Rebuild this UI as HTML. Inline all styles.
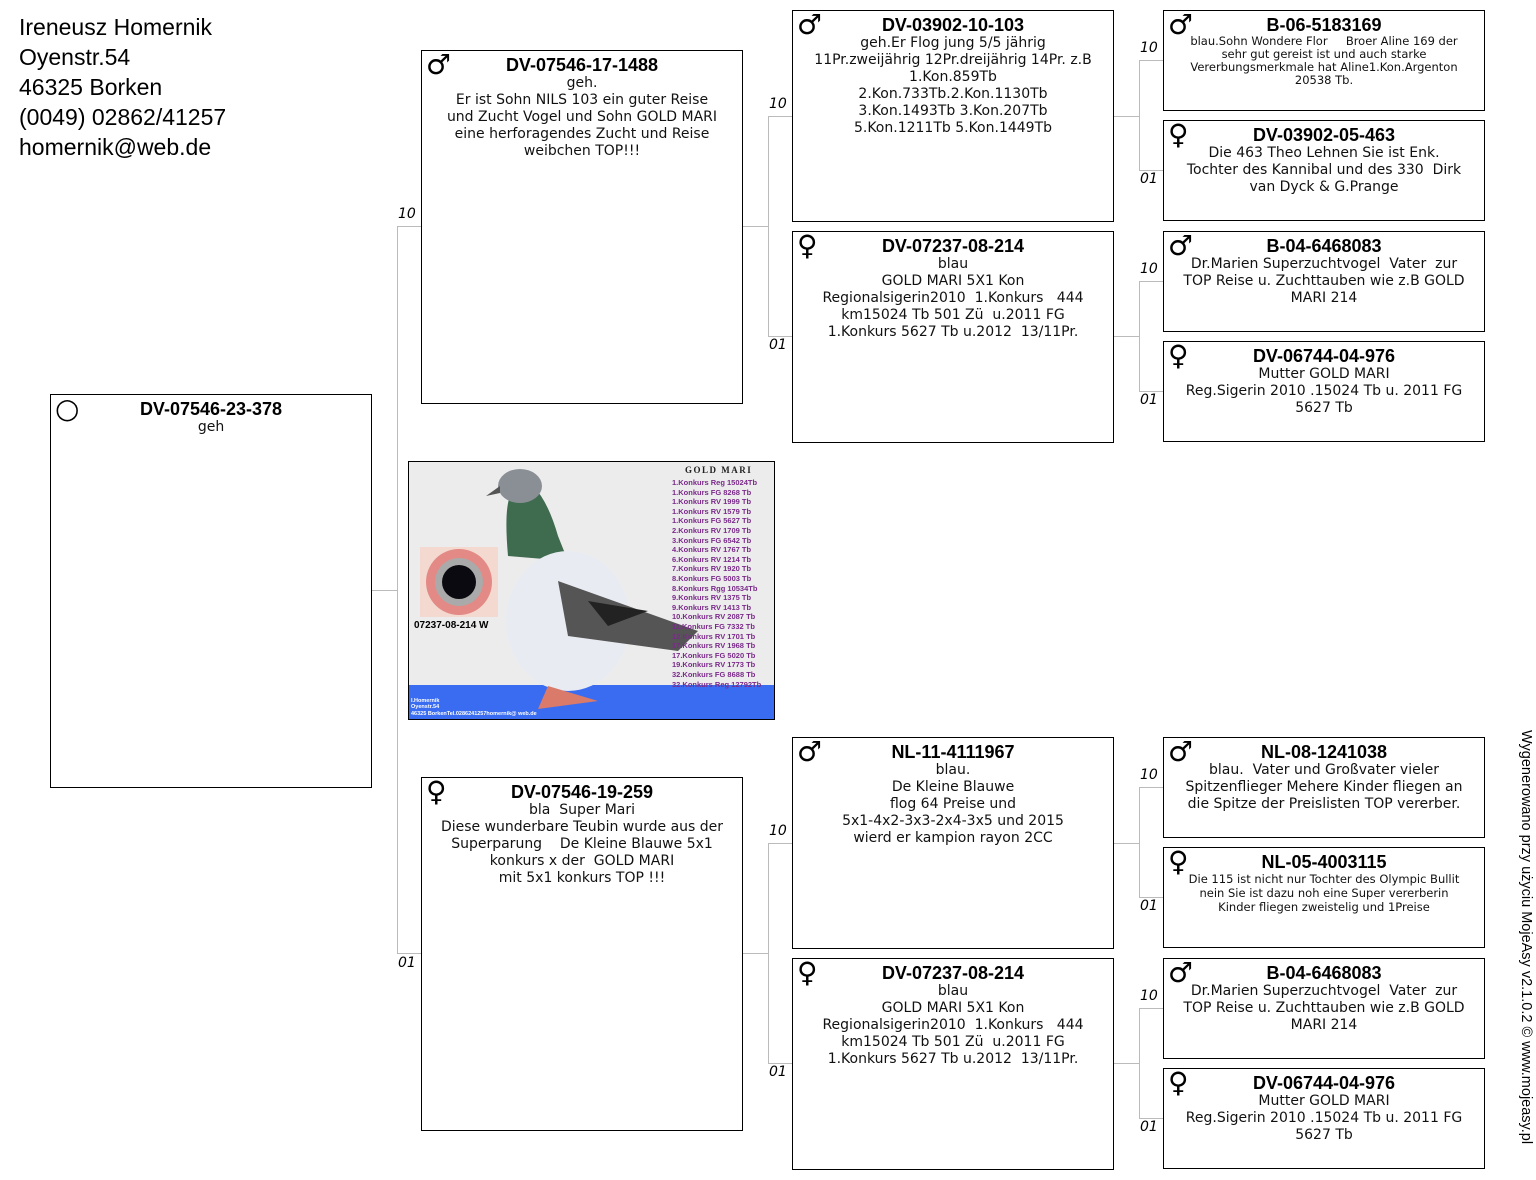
<!DOCTYPE html>
<html><head><meta charset="utf-8"><style>
body{margin:0;width:1536px;height:1180px;background:#fff;position:relative;overflow:hidden;font-family:"DejaVu Sans","Liberation Sans",sans-serif;color:#111}
.b{position:absolute;border:1px solid #000;box-sizing:border-box;background:#fff;text-align:center;font-size:14px;line-height:17px;padding-top:5px}
.b .t{font-family:"Liberation Sans",sans-serif;font-weight:bold;font-size:18px;line-height:19px;color:#000}
.s{position:absolute;left:4px;top:0px;font-size:28px;line-height:28px;font-family:"DejaVu Sans",sans-serif;color:#000}
.sm{font-size:11.5px;line-height:13px}
.l{position:absolute;background:#bbb}
.n{position:absolute;font-style:italic;font-size:14px;font-family:"DejaVu Sans",sans-serif;color:#000}
.hd{position:absolute;left:19px;top:12px;font-family:"Liberation Sans",sans-serif;font-size:23px;line-height:30px;color:#000}
</style></head><body>
<div class="hd">Ireneusz Homernik<br>Oyenstr.54<br>46325 Borken<br>(0049) 02862/41257<br>homernik@web.de</div>

<div class="l" style="left:371px;top:590px;width:26px;height:1px"></div>
<div class="l" style="left:397px;top:226px;width:1px;height:728px"></div>
<div class="l" style="left:397px;top:226px;width:24px;height:1px"></div>
<div class="l" style="left:397px;top:953px;width:24px;height:1px"></div>
<div class="n" style="left:398px;top:206px">10</div><div class="n" style="left:398px;top:955px">01</div>

<div class="l" style="left:742px;top:226px;width:26px;height:1px"></div>
<div class="l" style="left:768px;top:116px;width:1px;height:221px"></div>
<div class="l" style="left:768px;top:116px;width:24px;height:1px"></div>
<div class="l" style="left:768px;top:336px;width:24px;height:1px"></div>
<div class="n" style="left:769px;top:96px">10</div><div class="n" style="left:769px;top:337px">01</div>

<div class="l" style="left:742px;top:953px;width:26px;height:1px"></div>
<div class="l" style="left:768px;top:843px;width:1px;height:221px"></div>
<div class="l" style="left:768px;top:843px;width:24px;height:1px"></div>
<div class="l" style="left:768px;top:1063px;width:24px;height:1px"></div>
<div class="n" style="left:769px;top:823px">10</div><div class="n" style="left:769px;top:1064px">01</div>

<div class="l" style="left:1113px;top:116px;width:26px;height:1px"></div>
<div class="l" style="left:1139px;top:60px;width:1px;height:111px"></div>
<div class="l" style="left:1139px;top:60px;width:24px;height:1px"></div>
<div class="l" style="left:1139px;top:170px;width:24px;height:1px"></div>
<div class="n" style="left:1140px;top:40px">10</div><div class="n" style="left:1140px;top:171px">01</div>

<div class="l" style="left:1113px;top:336px;width:26px;height:1px"></div>
<div class="l" style="left:1139px;top:281px;width:1px;height:111px"></div>
<div class="l" style="left:1139px;top:281px;width:24px;height:1px"></div>
<div class="l" style="left:1139px;top:391px;width:24px;height:1px"></div>
<div class="n" style="left:1140px;top:261px">10</div><div class="n" style="left:1140px;top:392px">01</div>

<div class="l" style="left:1113px;top:843px;width:26px;height:1px"></div>
<div class="l" style="left:1139px;top:787px;width:1px;height:111px"></div>
<div class="l" style="left:1139px;top:787px;width:24px;height:1px"></div>
<div class="l" style="left:1139px;top:897px;width:24px;height:1px"></div>
<div class="n" style="left:1140px;top:767px">10</div><div class="n" style="left:1140px;top:898px">01</div>

<div class="l" style="left:1113px;top:1063px;width:26px;height:1px"></div>
<div class="l" style="left:1139px;top:1008px;width:1px;height:111px"></div>
<div class="l" style="left:1139px;top:1008px;width:24px;height:1px"></div>
<div class="l" style="left:1139px;top:1118px;width:24px;height:1px"></div>
<div class="n" style="left:1140px;top:988px">10</div><div class="n" style="left:1140px;top:1119px">01</div>

<div class="b" style="left:50px;top:394px;width:322px;height:394px"><span class="s">○</span><div class="t">DV-07546-23-378</div>geh</div>

<div class="b" style="left:421px;top:50px;width:322px;height:354px"><span class="s">♂</span><div class="t">DV-07546-17-1488</div>geh.<br>Er ist Sohn NILS 103 ein guter Reise<br>und Zucht Vogel und Sohn GOLD MARI<br>eine herforagendes Zucht und Reise<br>weibchen TOP!!!</div>
<div class="b" style="left:421px;top:777px;width:322px;height:354px"><span class="s">♀</span><div class="t">DV-07546-19-259</div>bla&nbsp; Super Mari<br>Diese wunderbare Teubin wurde aus der<br>Superparung&nbsp;&nbsp;&nbsp; De Kleine Blauwe 5x1<br>konkurs x der&nbsp; GOLD MARI<br>mit 5x1 konkurs TOP !!!</div>

<div class="b" style="left:792px;top:10px;width:322px;height:212px"><span class="s">♂</span><div class="t">DV-03902-10-103</div>geh.Er Flog jung 5/5 jährig<br>11Pr.zweijährig 12Pr.dreijährig 14Pr. z.B<br>1.Kon.859Tb<br>2.Kon.733Tb.2.Kon.1130Tb<br>3.Kon.1493Tb 3.Kon.207Tb<br>5.Kon.1211Tb 5.Kon.1449Tb</div>
<div class="b" style="left:792px;top:231px;width:322px;height:212px"><span class="s">♀</span><div class="t">DV-07237-08-214</div>blau<br>GOLD MARI 5X1 Kon<br>Regionalsigerin2010&nbsp; 1.Konkurs&nbsp;&nbsp; 444<br>km15024 Tb 501 Zü&nbsp; u.2011 FG<br>1.Konkurs 5627 Tb u.2012&nbsp; 13/11Pr.</div>
<div class="b" style="left:792px;top:737px;width:322px;height:212px"><span class="s">♂</span><div class="t">NL-11-4111967</div>blau.<br>De Kleine Blauwe<br>flog 64 Preise und<br>5x1-4x2-3x3-2x4-3x5 und 2015<br>wierd er kampion rayon 2CC</div>
<div class="b" style="left:792px;top:958px;width:322px;height:212px"><span class="s">♀</span><div class="t">DV-07237-08-214</div>blau<br>GOLD MARI 5X1 Kon<br>Regionalsigerin2010&nbsp; 1.Konkurs&nbsp;&nbsp; 444<br>km15024 Tb 501 Zü&nbsp; u.2011 FG<br>1.Konkurs 5627 Tb u.2012&nbsp; 13/11Pr.</div>

<div class="b" style="left:1163px;top:10px;width:322px;height:101px"><span class="s">♂</span><div class="t">B-06-5183169</div><div class="sm">blau.Sohn Wondere Flor&nbsp;&nbsp;&nbsp;&nbsp; Broer Aline 169 der<br>sehr gut gereist ist und auch starke<br>Vererbungsmerkmale hat Aline1.Kon.Argenton<br>20538 Tb.</div></div>
<div class="b" style="left:1163px;top:120px;width:322px;height:101px"><span class="s">♀</span><div class="t">DV-03902-05-463</div>Die 463 Theo Lehnen Sie ist Enk.<br>Tochter des Kannibal und des 330&nbsp; Dirk<br>van Dyck &amp; G.Prange</div>
<div class="b" style="left:1163px;top:231px;width:322px;height:101px"><span class="s">♂</span><div class="t">B-04-6468083</div>Dr.Marien Superzuchtvogel&nbsp; Vater&nbsp; zur<br>TOP Reise u. Zuchttauben wie z.B GOLD<br>MARI 214</div>
<div class="b" style="left:1163px;top:341px;width:322px;height:101px"><span class="s">♀</span><div class="t">DV-06744-04-976</div>Mutter GOLD MARI<br>Reg.Sigerin 2010 .15024 Tb u. 2011 FG<br>5627 Tb</div>
<div class="b" style="left:1163px;top:737px;width:322px;height:101px"><span class="s">♂</span><div class="t">NL-08-1241038</div>blau.&nbsp; Vater und Großvater vieler<br>Spitzenflieger Mehere Kinder fliegen an<br>die Spitze der Preislisten TOP vererber.</div>
<div class="b" style="left:1163px;top:847px;width:322px;height:101px"><span class="s">♀</span><div class="t">NL-05-4003115</div><div class="sm" style="line-height:14px">Die 115 ist nicht nur Tochter des Olympic Bullit<br>nein Sie ist dazu noh eine Super vererberin<br>Kinder fliegen zweistelig und 1Preise</div></div>
<div class="b" style="left:1163px;top:958px;width:322px;height:101px"><span class="s">♂</span><div class="t">B-04-6468083</div>Dr.Marien Superzuchtvogel&nbsp; Vater&nbsp; zur<br>TOP Reise u. Zuchttauben wie z.B GOLD<br>MARI 214</div>
<div class="b" style="left:1163px;top:1068px;width:322px;height:101px"><span class="s">♀</span><div class="t">DV-06744-04-976</div>Mutter GOLD MARI<br>Reg.Sigerin 2010 .15024 Tb u. 2011 FG<br>5627 Tb</div>

<svg style="position:absolute;left:408px;top:461px" width="367" height="259" viewBox="0 0 367 259">
<rect x="0.5" y="0.5" width="366" height="258" fill="#ececec" stroke="#000"/>
<rect x="1" y="224" width="365" height="34" fill="#3a6cf2"/>
<rect x="12" y="86" width="78" height="70" fill="#f3d9cf"/>
<circle cx="51" cy="121" r="33" fill="#e38a86"/><circle cx="51" cy="121" r="24" fill="#aaa"/><circle cx="51" cy="121" r="17" fill="#0a0a10"/>
<text x="6" y="167" font-family="Liberation Sans" font-weight="bold" font-size="10">07237-08-214 W</text>
<path d="M100 95 Q96 50 102 35 L125 25 Q140 40 150 75 L160 100 Z" fill="#3f6b4f"/>
<ellipse cx="112" cy="25" rx="22" ry="17" fill="#8a8f96"/>
<path d="M92 25 L78 35 L92 32 Z" fill="#555"/>
<ellipse cx="160" cy="160" rx="62" ry="70" fill="#e8ecf2"/>
<path d="M150 120 L290 170 L270 190 L160 175 Z" fill="#555"/>
<path d="M180 140 L240 150 L200 165 Z" fill="#222"/>
<path d="M140 225 L190 240 L130 248 Z" fill="#d97a6a"/>
<text x="277" y="12" font-family="Liberation Serif" font-weight="bold" font-size="9" fill="#222" letter-spacing="1.5">GOLD MARI</text>
<g font-family="Liberation Sans" font-weight="bold" font-size="7.5" fill="#7a2a8a">
<text x="264" y="24">1.Konkurs  Reg 15024Tb</text><text x="264" y="34">1.Konkurs  FG   8268 Tb</text><text x="264" y="43">1.Konkurs  RV   1999 Tb</text><text x="264" y="53">1.Konkurs  RV   1579 Tb</text><text x="264" y="62">1.Konkurs  FG   5627 Tb</text><text x="264" y="72">2.Konkurs  RV   1709 Tb</text><text x="264" y="82">3.Konkurs  FG   6542 Tb</text><text x="264" y="91">4.Konkurs  RV   1767 Tb</text><text x="264" y="101">6.Konkurs  RV   1214 Tb</text><text x="264" y="110">7.Konkurs  RV   1920 Tb</text><text x="264" y="120">8.Konkurs  FG   5003 Tb</text><text x="264" y="130">8.Konkurs Rgg 10534Tb</text><text x="264" y="139">9.Konkurs  RV   1375 Tb</text><text x="264" y="149">9.Konkurs  RV   1413 Tb</text><text x="264" y="158">10.Konkurs RV  2087 Tb</text><text x="264" y="168">11.Konkurs FG  7332 Tb</text><text x="264" y="178">12.Konkurs RV  1701 Tb</text><text x="264" y="187">17.Konkurs RV  1968 Tb</text><text x="264" y="197">17.Konkurs FG  5020 Tb</text><text x="264" y="206">19.Konkurs RV  1773 Tb</text><text x="264" y="216">32.Konkurs FG  8688 Tb</text><text x="264" y="226">32.Konkurs Reg 12792Tb</text></g>
<g font-family="Liberation Sans" font-weight="bold" font-size="5.5" fill="#fff"><text x="3" y="241">I.Homernik</text><text x="3" y="247">Oyenstr.54</text><text x="3" y="254">46325 BorkenTel.0286241257homernik@ web.de</text></g>
</svg>

<div style="position:absolute;left:1533px;top:730px;transform-origin:0 0;transform:rotate(90deg);white-space:nowrap;font-family:'Liberation Sans',sans-serif;font-size:14.5px;line-height:15px;color:#000">Wygenerowano przy użyciu MojeAsy v2.1.0.2 © www.mojeasy.pl</div>
</body></html>
